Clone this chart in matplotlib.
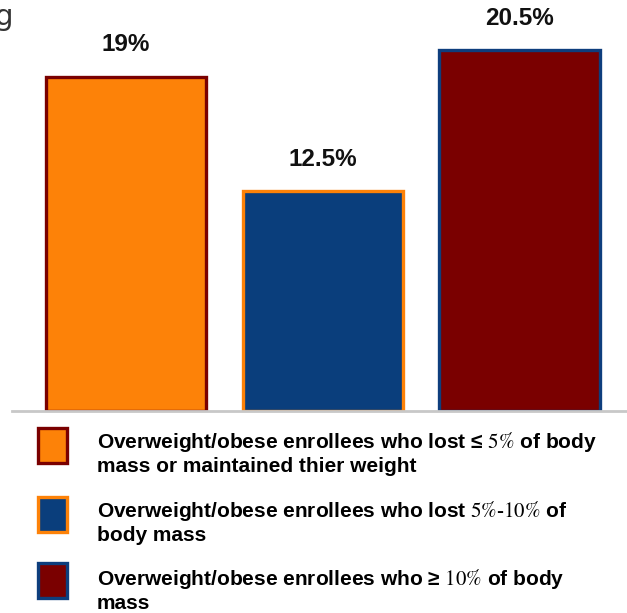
import matplotlib
matplotlib.use("Agg")
import matplotlib.pyplot as plt
from matplotlib.patches import Rectangle

plt.rcParams['font.family'] = ['Liberation Sans', 'DejaVu Sans']
plt.rcParams['mathtext.fontset'] = 'stix'

# Share of enrollees in each weight-change group (%)
groups = ["lost <=5% or maintained", "lost 5%-10%", "lost >=10%"]
values = [19, 12.5, 20.5]
value_labels = ["19%", "12.5%", "20.5%"]
legend_labels = [
    "Overweight/obese enrollees who lost \u2264 $\\mathrm{5\\%}$ of body\nmass or maintained thier weight",
    "Overweight/obese enrollees who lost $\\mathrm{5\\%}$-$\\mathrm{10\\%}$ of\nbody mass",
    "Overweight/obese enrollees who \u2265 $\\mathrm{10\\%}$ of body\nmass",
]
fill_colors = ["#FD8208", "#0A3E7C", "#7A0000"]
edge_colors = ["#7A0000", "#FD8208", "#0E3E7D"]

W, H = 627, 613
fig = plt.figure(figsize=(W / 100, H / 100), dpi=100)

# axes spanning baseline region in pixel terms
ax_left, ax_right, ax_top, ax_bottom = 12, 627, 0, 411
ax = fig.add_axes([ax_left / W, 1 - ax_bottom / H, (ax_right - ax_left) / W, (ax_bottom - ax_top) / H])

x = list(range(len(values)))
bars = ax.bar(x, values, width=0.815, color=fill_colors, edgecolor=edge_colors, linewidth=2.4)
ax.set_xlim(-0.579, 2.546)
ax.set_ylim(0, 23.35)

for b, v, lab in zip(bars, values, value_labels):
    ax.annotate(lab, (b.get_x() + b.get_width() / 2, v), xytext=(0, 23), textcoords="offset points",
                ha="center", va="center", fontsize=17.5, fontweight="bold", color="#111111")

for s in ["top", "right", "left"]:
    ax.spines[s].set_visible(False)
ax.spines["bottom"].set_color("#C8C8C8")
ax.spines["bottom"].set_linewidth(2)
ax.set_xticks([])
ax.set_yticks([])
ax.set_zorder(1)
ax.patch.set_alpha(0)

# clipped axis-title fragment at the top-left edge
fig.text(-6 / W, 1 - 17 / H, "g", fontsize=21, color="#333333", ha="left", va="center",
         family="DejaVu Sans")

# legend: swatches and two-line descriptions
sq_tops = [428, 497, 563]
line1_y = [441, 510, 578]
for i in range(len(values)):
    fig.patches.append(Rectangle((38 / W, 1 - (sq_tops[i] + 35) / H), 29 / W, 35 / H,
                                 transform=fig.transFigure, facecolor=fill_colors[i],
                                 edgecolor=edge_colors[i], linewidth=2.4))
    fig.text(97 / W, 1 - (line1_y[i] - 11) / H, legend_labels[i], fontsize=15, fontweight="bold",
             ha="left", va="top", linespacing=1.2, color="black")

fig.savefig("out.png", dpi=100)
